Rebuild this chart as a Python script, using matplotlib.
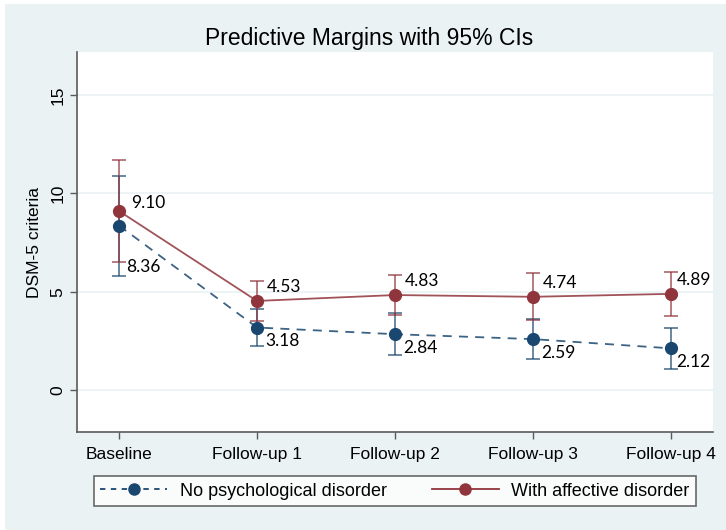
import numpy as np
import matplotlib.pyplot as plt
from matplotlib.lines import Line2D

plt.rcParams['font.family'] = ['Liberation Sans', 'DejaVu Sans']

# Data
waves = ['Baseline', 'Follow-up 1', 'Follow-up 2', 'Follow-up 3', 'Follow-up 4']
no_disorder = [8.36, 3.18, 2.84, 2.59, 2.12]
no_disorder_lo = [5.82, 2.23, 1.78, 1.57, 1.07]
no_disorder_hi = [10.90, 4.13, 3.90, 3.61, 3.17]
affective = [9.10, 4.53, 4.83, 4.74, 4.89]
affective_lo = [6.52, 3.53, 3.82, 3.54, 3.78]
affective_hi = [11.68, 5.53, 5.84, 5.94, 6.00]

navy = '#1a476f'
maroon = '#90353b'
bg = '#eaf2f3'

fig = plt.figure(figsize=(7.26, 5.30), dpi=100)
fig.patch.set_facecolor('white')
# stata-like graph region
fig.patches.append(plt.Rectangle((5 / 726, 0), 1, 1 - 4 / 530, transform=fig.transFigure,
                                 facecolor=bg, edgecolor='none', zorder=-10))

ax = fig.add_axes([77 / 726, 1 - 432 / 530, 636 / 726, 380 / 530])
ax.set_facecolor('white')
x = np.arange(len(waves))

for vals, lo, hi, col, ls, lab in [
        (no_disorder, no_disorder_lo, no_disorder_hi, navy, (0, (5, 4)), 'No psychological disorder'),
        (affective, affective_lo, affective_hi, maroon, '-', 'With affective disorder')]:
    vals = np.array(vals)
    err = [vals - np.array(lo), np.array(hi) - vals]
    ax.errorbar(x, vals, yerr=err, fmt='none', ecolor=col, alpha=0.7,
                elinewidth=1.3, capsize=5, capthick=1.3, zorder=2)
    ax.plot(x, vals, color=col, linestyle=ls, linewidth=1.3, alpha=0.85, zorder=3)
    ax.plot(x, vals, 'o', color=col, markersize=8.5, zorder=4, label=lab)

# data labels
blue_offsets = [(5, -30), (6, -10), (6, -10), (6, -10), (4, -10)]
red_offsets = [(9, 6), (7, 10), (7, 10), (7, 10), (4, 10)]
for i in range(len(waves)):
    ax.annotate(f'{no_disorder[i]:.2f}', (x[i], no_disorder[i]), xytext=blue_offsets[i],
                textcoords='offset points', ha='left', va='center', fontsize=12.5,
                family=['Lato', 'DejaVu Sans'], color='black', zorder=5)
    ax.annotate(f'{affective[i]:.2f}', (x[i], affective[i]), xytext=red_offsets[i],
                textcoords='offset points', ha='left', va='center', fontsize=12.5,
                family=['Lato', 'DejaVu Sans'], color='black', zorder=5)

ax.set_xlim(-0.304, 4.304)
ax.set_ylim(-2.13, 17.18)
ax.set_xticks(x)
ax.set_xticklabels(waves, fontsize=12.5)
ax.set_yticks([0, 5, 10, 15])
ax.set_yticklabels(['0', '5', '10', '15'], fontsize=12.5, rotation=90, va='center')
ax.yaxis.grid(True, color=bg, linewidth=1.2)
ax.set_axisbelow(True)
for s in ['top', 'right']:
    ax.spines[s].set_visible(False)
for s in ['left', 'bottom']:
    ax.spines[s].set_color('#5a5a5a')
    ax.spines[s].set_linewidth(1.2)
ax.tick_params(axis='both', colors='#5a5a5a', labelcolor='black', length=5, width=1)
ax.tick_params(axis='x', pad=6)
ax.set_ylabel('DSM-5 criteria', fontsize=12.5, labelpad=6)
fig.text(369 / 726, 1 - 38 / 530, 'Predictive Margins with 95% CIs', fontsize=16.5,
         ha='center', va='center')

handles = [Line2D([], [], color=navy, linestyle=(0, (3, 3)), marker='o', markersize=8, linewidth=1.3),
           Line2D([], [], color=maroon, linestyle='-', marker='o', markersize=8, linewidth=1.3)]
leg = fig.legend(handles, ['No psychological disorder', 'With affective disorder'],
                 loc='center', bbox_to_anchor=(92 / 726, 1 - 508 / 530, 606 / 726, 34 / 530),
                 ncol=2, fontsize=13, frameon=True, fancybox=False, handlelength=3.7,
                 handletextpad=0.7, columnspacing=2.5, borderpad=0.35)
leg.get_frame().set_edgecolor('#444444')
leg.get_frame().set_linewidth(1.2)

fig.savefig('out.png', dpi=100, facecolor=fig.get_facecolor())
